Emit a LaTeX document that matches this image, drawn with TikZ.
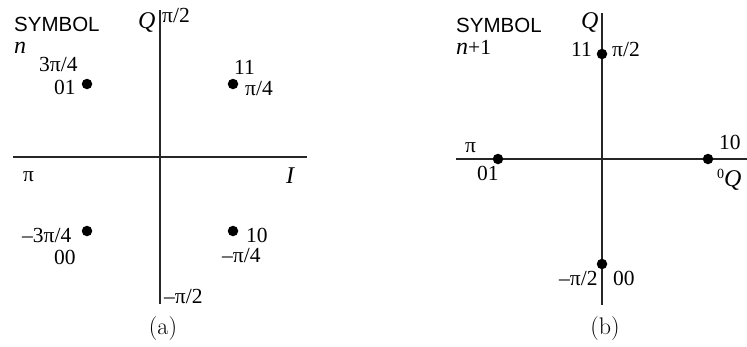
\documentclass[tikz,border=0pt]{standalone}
\usepackage{fontspec}
\newfontfamily\tnr{Liberation Serif}
\newfontfamily\arial{Liberation Sans}
\begin{document}
\begin{tikzpicture}[x=1pt,y=-1pt,
  lbl/.style={inner sep=0pt, anchor=base west, font=\tnr\fontsize{21.5}{21.5}\selectfont},
  ital/.style={inner sep=0pt, anchor=base west, font=\tnr\itshape\fontsize{24}{24}\selectfont},
  small/.style={inner sep=0pt, anchor=base west, font=\tnr\fontsize{14}{14}\selectfont},
  sym/.style={inner sep=0pt, anchor=base west, text depth=0pt, font=\arial\fontsize{20.5}{20.5}\selectfont},
  captxt/.style={inner sep=0pt, anchor=base, font=\fontsize{24}{24}\selectfont},
  axis/.style={line width=1.1pt, black!85},
  pt/.style={circle, fill=black, inner sep=0pt, minimum size=10.5pt}]
\useasboundingbox (0,0) rectangle (747,346);
% ---------- panel (a)
\coordinate (aT) at (160,10);
\coordinate (aB) at (160,304);
\coordinate (aL) at (13,157);
\coordinate (aR) at (307,157);
\draw[axis] (aT) -- (aB);
\draw[axis] (aL) -- (aR);
\node[pt] (a01) at (87,84) {};
\node[pt] (a11) at (233,84) {};
\node[pt] (a00) at (87,231) {};
\node[pt] (a10) at (233,231) {};
\node[sym] (asym) at (14,31) {SYMBOL};
\node[ital, text height=11pt] (an) at (14,53) {n};
\node[ital] (aQ) at (138,28) {Q};
\node[lbl] (api2) at (162,22) {π/2};
\node[lbl] (a3pi4) at (39,71) {3π/4};
\node[lbl] (a01l) at (54,94) {01};
\node[lbl] (a11l) at (234,74) {11};
\node[lbl] (api4) at (245,95) {π/4};
\node[lbl] (api) at (23,181) {π};
\node[ital] (aI) at (286,183) {I};
\node[lbl] (am3pi4) at (22,242) {–3π/4};
\node[lbl] (a00l) at (54,264) {00};
\node[lbl] (a10l) at (246,242) {10};
\node[lbl] (ampi4) at (222,262) {–π/4};
\node[lbl] (ampi2) at (164,303) {–π/2};
\node[captxt] (acap) at (163,334) {(a)};
% ---------- panel (b)
\coordinate (bT) at (602,13);
\coordinate (bB) at (602,305);
\coordinate (bL) at (456,159);
\coordinate (bR) at (747,159);
\draw[axis] (bT) -- (bB);
\draw[axis] (bL) -- (bR);
\node[pt] (b11) at (602,54) {};
\node[pt] (b01) at (498,159) {};
\node[pt] (b10) at (708,159) {};
\node[pt] (b00) at (602,264) {};
\node[sym] (bsym) at (456,32) {SYMBOL};
\node[lbl, text height=14pt] (bn) at (456,54) {{\fontsize{24}{24}\selectfont\itshape n}+1};
\node[ital] (bQ) at (581,28) {Q};
\node[lbl] (b11l) at (571,56) {11};
\node[lbl] (bpi2) at (612,56) {π/2};
\node[lbl] (bpi) at (465,152) {π};
\node[lbl] (b01l) at (477,180) {01};
\node[lbl] (b10l) at (719,149) {10};
\node[small] (b0) at (717,178) {0};
\node[ital] (bQ2) at (724,186) {Q};
\node[lbl] (bmpi2) at (559,285) {–π/2};
\node[lbl] (b00l) at (613,285) {00};
\node[captxt] (bcap) at (605,334) {(b)};
\end{tikzpicture}
\end{document}
